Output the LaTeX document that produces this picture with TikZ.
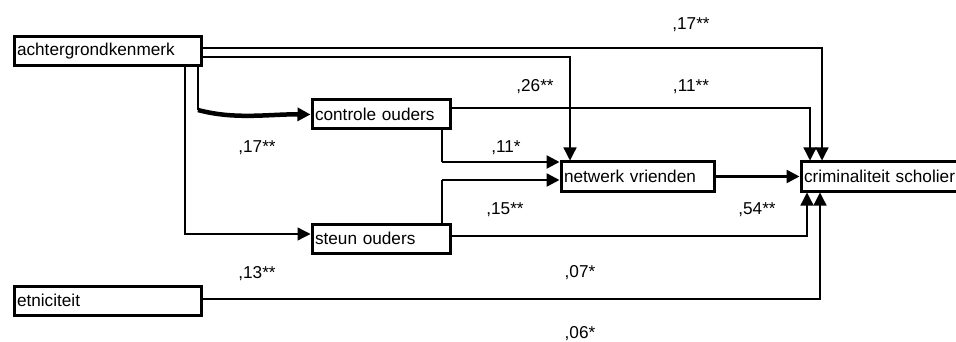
\documentclass[tikz,border=0pt]{standalone}
\usepackage{fontspec}
\setmainfont{Liberation Sans}
\usetikzlibrary{arrows.meta}

\begin{document}
\begin{tikzpicture}[x=1pt, y=-1pt, font=\fontsize{17.2}{20}\selectfont,
    box/.style={draw, line width=3pt, anchor=north west, inner xsep=3pt, inner ysep=0pt, minimum height=29pt, align=left},
    lab/.style={anchor=base, inner sep=0pt},
    dun/.style={line width=1.3pt},
    dik/.style={line width=2.5pt},
    pijl/.style={-{Triangle[length=13pt, width=13pt]}}]
\useasboundingbox (0, 0) rectangle (956, 342);
% vakken
\node[box, text width=181pt] (ach) at (12.5, 35.5) {achtergrondkenmerk};
\node[box, text width=132pt] (con) at (310.5, 98.5) {controle ouders};
\node[box, text width=132pt] (steun) at (310.5, 222.5) {steun ouders};
\node[box, text width=181pt] (etn) at (12.5, 284.5) {etniciteit};
\node[box, text width=147pt] (net) at (559.5, 160.5) {netwerk vrienden};
\node[box, text width=170pt] (crim) at (799.5, 160.5) {criminaliteit scholier};
% paden
\draw[dun, pijl] (ach.east |- 0,48) -| (crim.north -| 822,0);
\draw[dun, pijl] (ach.east |- 0,57) -| (net.north -| 570,0);
\draw[dun, pijl] (con.east |- 0,108) -| (crim.north -| 810,0);
\draw[dun] (con.south -| 442,0) -- (442, 162) coordinate (k1);
\draw[dik, pijl] (k1) -- (net.west |- k1);
\draw[dun] (steun.north -| 442,0) -- (442, 180) coordinate (k2);
\draw[dik, pijl] (k2) -- (net.west |- k2);
\draw[dun, pijl] (ach.south -| 185,0) |- (steun.west |- 0,234);
\draw[dun] (ach.south -| 198,0) -- (198, 110) coordinate (k3);
\draw[line width=4.5pt, pijl] (k3) .. controls (235, 120) and (270, 114) .. (con.west);
\draw[dik, pijl] (net.east) -- (crim.west);
\draw[dun, pijl] (steun.east |- 0,236) -| (crim.south -| 807,0);
\draw[dun, pijl] (etn.east |- 0,299) -| (crim.south -| 820,0);
% coefficienten
\node[lab] (c1) at (691, 30) {,17**};
\node[lab] (c2) at (535, 92) {,26**};
\node[lab] (c3) at (691, 92) {,11**};
\node[lab] (c4) at (506, 153) {,11*};
\node[lab] (c5) at (257, 153) {,17**};
\node[lab] (c6) at (505, 214) {,15**};
\node[lab] (c7) at (757, 214) {,54**};
\node[lab] (c8) at (257, 278) {,13**};
\node[lab] (c9) at (580, 277) {,07*};
\node[lab] (c10) at (580, 338) {,06*};
\end{tikzpicture}
\end{document}
